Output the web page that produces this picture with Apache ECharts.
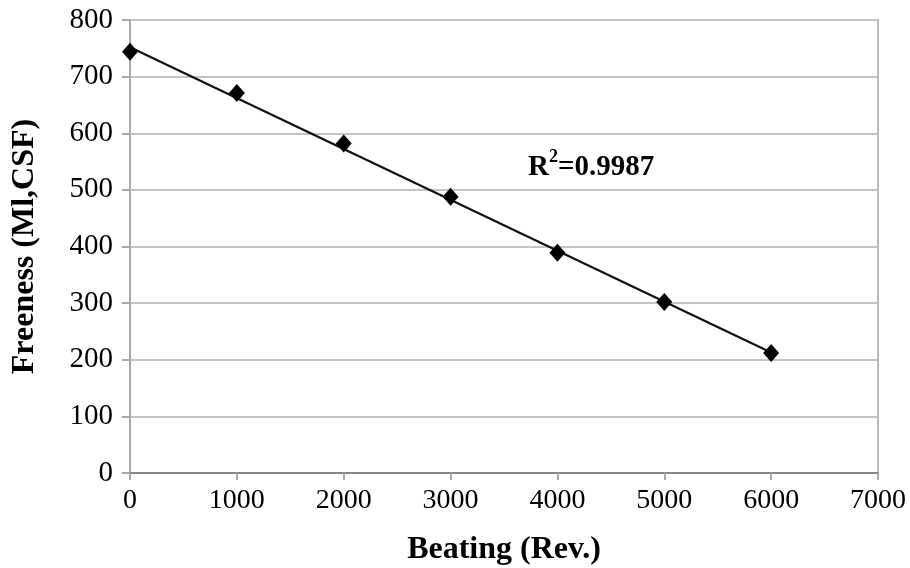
<!DOCTYPE html>
<html><head><meta charset="utf-8">
<script src="https://cdn.jsdelivr.net/npm/echarts@6/dist/echarts.min.js"></script>
<style>html,body{margin:0;padding:0;background:#fff}#c{width:910px;height:568px}</style>
</head><body><div id="c"></div>
<script>
const beating = [0, 1000, 2000, 3000, 4000, 5000, 6000];
const freeness = [744, 671, 582, 488, 389, 302, 212];
const trendX = [0, 6000];
const trendY = [752, 213];
const r2Label = '0.9987';

const chart = echarts.init(document.getElementById('c'));
const serif = 'Liberation Serif';
chart.setOption({
  animation: false,
  grid: {left: 130, top: 20, right: 32, bottom: 95, containLabel: false, outerBoundsMode: 'none',
         show: true, borderColor: '#bbb', borderWidth: 2, backgroundColor: 'transparent'},
  xAxis: {
    type: 'value', min: 0, max: 7000, interval: 1000,
    name: 'Beating (Rev.)', nameLocation: 'middle', nameGap: 61,
    nameTextStyle: {fontFamily: serif, fontSize: 32, fontWeight: 'bold', color: '#000'},
    axisLine: {show: true, lineStyle: {color: '#888', width: 2}},
    axisTick: {show: true, length: 7, lineStyle: {color: '#aaa', width: 2}},
    axisLabel: {fontFamily: serif, fontSize: 28, color: '#000', margin: 14, formatter: v => String(v)},
    splitLine: {show: false}
  },
  yAxis: {
    type: 'value', min: 0, max: 800, interval: 100,
    name: 'Freeness (Ml,CSF)', nameLocation: 'middle', nameGap: 89,
    nameTextStyle: {fontFamily: serif, fontSize: 32, fontWeight: 'bold', color: '#000'},
    axisLine: {show: true, lineStyle: {color: '#aaa', width: 2}},
    axisTick: {show: true, length: 8, lineStyle: {color: '#aaa', width: 2}},
    axisLabel: {fontFamily: serif, fontSize: 29, color: '#000', margin: 17},
    splitLine: {show: true, lineStyle: {color: '#c4c4c4', width: 2}}
  },
  series: [
    {
      type: 'line', data: trendX.map((x, i) => [x, trendY[i]]),
      symbol: 'none', lineStyle: {color: '#111', width: 2.2}, z: 2
    },
    {
      type: 'scatter', data: beating.map((x, i) => [x, freeness[i]]),
      symbol: 'diamond', symbolSize: [16, 18], itemStyle: {color: '#000', opacity: 1}, z: 3
    }
  ],
  graphic: [{
    type: 'text', left: 528, top: 148,
    style: {
      text: '{b|R}{s|2}{b|=' + r2Label + '}',
      rich: {
        b: {fontFamily: serif, fontSize: 29, fontWeight: 'bold', fill: '#000', lineHeight: 34, verticalAlign: 'bottom'},
        s: {fontFamily: serif, fontSize: 18, fontWeight: 'bold', fill: '#000', lineHeight: 34, verticalAlign: 'top', padding: [0, 0, 12, 0]}
      }
    }
  }]
});
</script></body></html>
